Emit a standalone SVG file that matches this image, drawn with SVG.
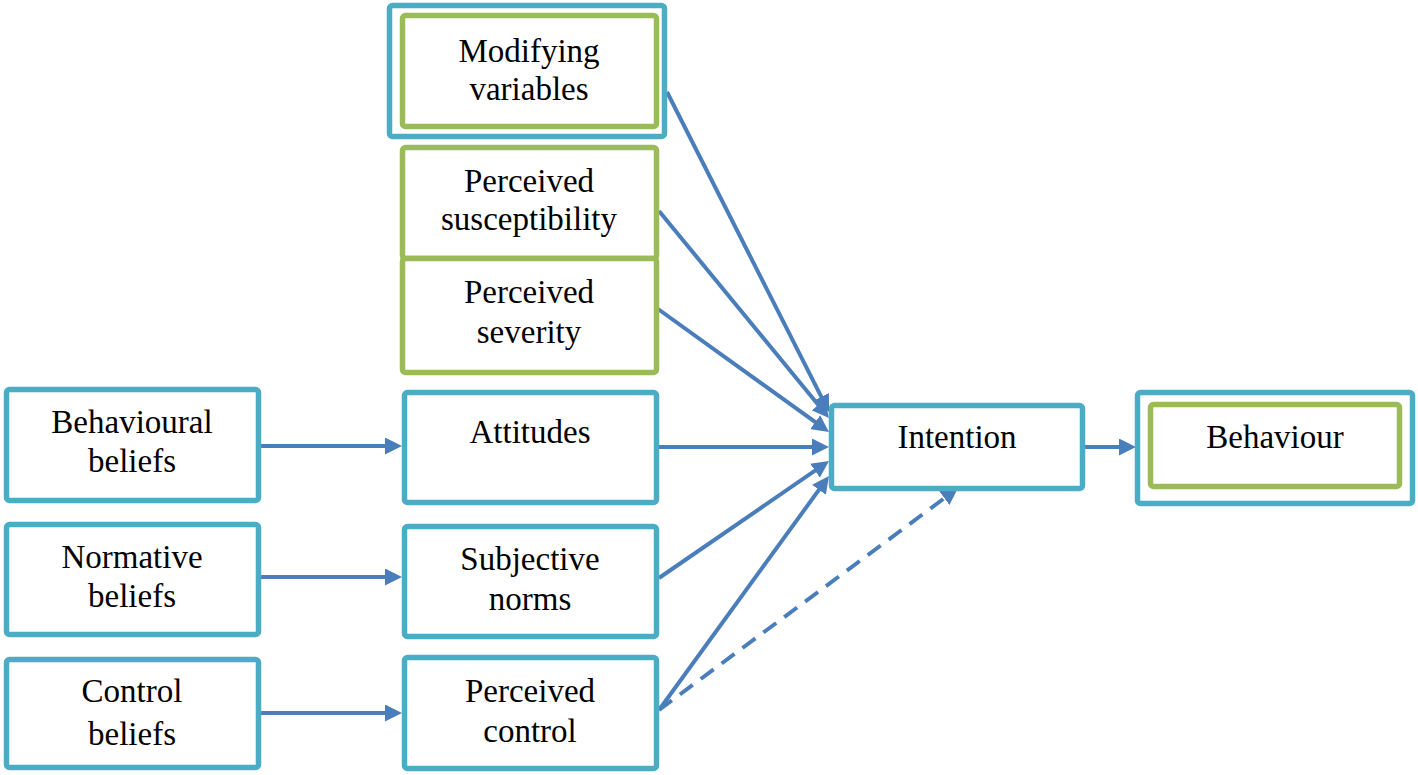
<svg xmlns="http://www.w3.org/2000/svg" width="1418" height="775" viewBox="0 0 1418 775">
<style>
.b{fill:#fff;stroke:#4BACC6;stroke-width:5.5}
.g{fill:#fff;stroke:#9BBB59;stroke-width:5.5}
.t{font-family:"Liberation Serif","Times New Roman",serif;font-size:33px;fill:#000;text-anchor:middle}
.c{stroke:#4A7EBB;stroke-width:4;fill:none}
</style>
<defs>
<marker id="ah" viewBox="0 0 17 17" refX="7" refY="8.5" markerWidth="17" markerHeight="17" markerUnits="userSpaceOnUse" orient="auto">
<path d="M0,0 L17,8.5 L0,17 z" fill="#4A7EBB"/>
</marker>
</defs>
<rect width="1418" height="775" fill="#fff"/>
<g id="connectors">
<line class="c" x1="667" y1="92" x2="824.5" y2="403.1" marker-end="url(#ah)"/>
<line class="c" x1="659" y1="211" x2="822.7" y2="410.3" marker-end="url(#ah)"/>
<line class="c" x1="658" y1="309" x2="820.9" y2="426.2" marker-end="url(#ah)"/>
<line class="c" x1="659" y1="447" x2="819" y2="447" marker-end="url(#ah)"/>
<line class="c" x1="659" y1="578" x2="820.8" y2="466.7" marker-end="url(#ah)"/>
<line class="c" x1="659" y1="710" x2="823.1" y2="484.1" marker-end="url(#ah)"/>
<line class="c" x1="659" y1="710" x2="950" y2="494" stroke-dasharray="16,10" marker-end="url(#ah)"/>
<line class="c" x1="260" y1="446" x2="392" y2="446" marker-end="url(#ah)"/>
<line class="c" x1="260" y1="577" x2="392" y2="577" marker-end="url(#ah)"/>
<line class="c" x1="260" y1="713" x2="392" y2="713" marker-end="url(#ah)"/>
<line class="c" x1="1085" y1="447" x2="1126" y2="447" stroke-width="2.5" marker-end="url(#ah)"/>
</g>
<g id="modifying-variables">
<rect class="b" x="389.5" y="5.5" width="275" height="131" rx="3"/>
<rect class="g" x="402.5" y="15.5" width="254" height="111" rx="3"/>
<text class="t" x="529" y="62">Modifying</text>
<text class="t" x="529" y="100">variables</text>
</g>
<g id="perceived-susceptibility">
<rect class="g" x="402.5" y="147.5" width="254" height="111" rx="3"/>
<text class="t" x="529" y="192">Perceived</text>
<text class="t" x="529" y="230">susceptibility</text>
</g>
<g id="perceived-severity">
<rect class="g" x="402.5" y="258.5" width="254" height="114" rx="3"/>
<text class="t" x="529" y="303">Perceived</text>
<text class="t" x="529" y="343">severity</text>
</g>
<g id="behavioural-beliefs">
<rect class="b" x="6.5" y="389.5" width="252" height="111" rx="3"/>
<text class="t" x="132" y="433">Behavioural</text>
<text class="t" x="132" y="472">beliefs</text>
</g>
<g id="normative-beliefs">
<rect class="b" x="6.5" y="524.5" width="252" height="110" rx="3"/>
<text class="t" x="132" y="568">Normative</text>
<text class="t" x="132" y="607">beliefs</text>
</g>
<g id="control-beliefs">
<rect class="b" x="6.5" y="659.5" width="252" height="108" rx="3"/>
<text class="t" x="132" y="702">Control</text>
<text class="t" x="132" y="745">beliefs</text>
</g>
<g id="attitudes">
<rect class="b" x="404.5" y="392.5" width="252" height="110" rx="3"/>
<text class="t" x="530" y="443">Attitudes</text>
</g>
<g id="subjective-norms">
<rect class="b" x="404.5" y="526.5" width="252" height="110" rx="3"/>
<text class="t" x="530" y="570">Subjective</text>
<text class="t" x="530" y="610">norms</text>
</g>
<g id="perceived-control">
<rect class="b" x="404.5" y="657.5" width="252" height="111" rx="3"/>
<text class="t" x="530" y="702">Perceived</text>
<text class="t" x="530" y="742">control</text>
</g>
<g id="intention">
<rect class="b" x="831.5" y="405.5" width="251" height="83" rx="3"/>
<text class="t" x="957" y="448">Intention</text>
</g>
<g id="behaviour">
<rect class="b" x="1137.5" y="392.5" width="275" height="111" rx="3"/>
<rect class="g" x="1150.5" y="404.5" width="249" height="82" rx="3"/>
<text class="t" x="1275" y="448">Behaviour</text>
</g>
</svg>
